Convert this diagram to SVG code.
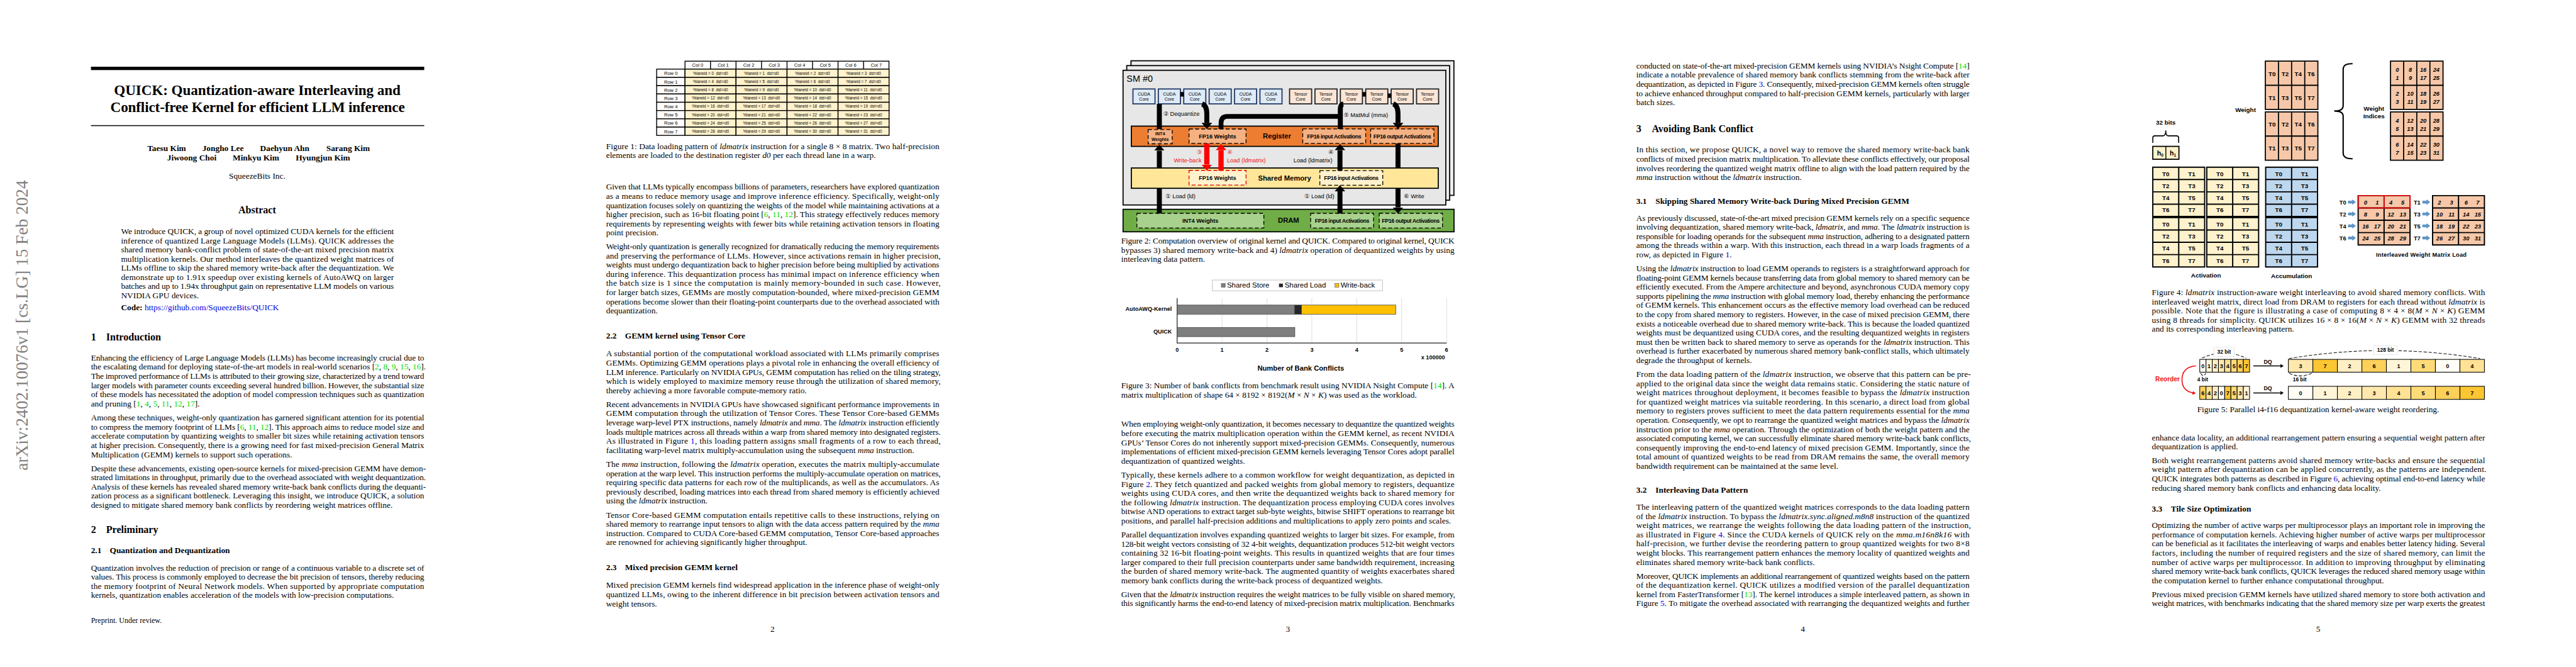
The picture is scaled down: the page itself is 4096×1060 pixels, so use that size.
<svg xmlns="http://www.w3.org/2000/svg" width="4096" height="1060" viewBox="0 0 4096 1060">
<style>
text{font-family:"Liberation Serif","Times New Roman",serif;font-size:15.15px;fill:#000}
.i{font-style:italic}.g{fill:#00e000}.bl{fill:#0000e0}
.h1{font-size:18.2px;font-weight:bold}.h2{font-weight:bold}
.s,.sb,.m,.mb,.n{font-family:"Liberation Sans",Arial,sans-serif}
.m{text-anchor:middle}.mb{text-anchor:middle;font-weight:bold}.sb{font-weight:bold}
#figure4 .m{font-weight:bold}
.f8{font-size:8px}.f7{font-size:7.1px}.f86{font-size:8.6px}.f10{font-size:10.3px}.f105{font-size:10.5px}.f11{font-size:11.2px}.f127{font-size:12.7px}.f13{font-size:13px}
.red{fill:#f01010}
.n{font-size:10.5px;font-weight:bold;font-style:italic;text-anchor:middle}
.bx{stroke:#000;stroke-width:1.6}
.d{stroke:#000;stroke-width:1.5;stroke-dasharray:7 4}
.w{fill:none;stroke:#000;stroke-width:9}
.wr{fill:none;stroke:#f00;stroke-width:9.5}
.ln{fill:none;stroke:#000}
.da{fill:none;stroke:#111;stroke-width:1.2;stroke-dasharray:6 3}
.c{stroke:#000;stroke-width:1.2}
.v0{fill:#fffdf6}.v1{fill:#fff6da}.v2{fill:#ffefc4}.v3{fill:#ffe8ad}.v4{fill:#ffe294}.v5{fill:#ffdb78}.v6{fill:#fdd05a}.v7{fill:#fbc631}
</style>
<defs>
<marker id="hb" markerUnits="userSpaceOnUse" markerWidth="11" markerHeight="19" viewBox="0 0 11 19" refX="0" refY="9.5" orient="auto"><path d="M0 0L11 9.5L0 19Z" fill="#000"/></marker>
<marker id="hr" markerUnits="userSpaceOnUse" markerWidth="11" markerHeight="19" viewBox="0 0 11 19" refX="0" refY="9.5" orient="auto"><path d="M0 0L11 9.5L0 19Z" fill="#f00"/></marker>
<marker id="hs" markerUnits="userSpaceOnUse" markerWidth="6" markerHeight="7" viewBox="0 0 6 7" refX="0" refY="3.5" orient="auto"><path d="M0 0L6 3.5L0 7Z" fill="#000"/></marker>
<marker id="hc" markerUnits="userSpaceOnUse" markerWidth="6" markerHeight="7" viewBox="0 0 6 7" refX="1" refY="3.5" orient="auto"><path d="M0 0L6 3.5L0 7Z" fill="#f01010"/></marker>
<g id="r1"><rect x="0" width="51" height="14.9" fill="#fff" class="bx"/><rect x="51" width="91.8" height="14.9" fill="#fff2cc" class="bx"/><rect x="142.8" width="91.8" height="14.9" fill="#fff2cc" class="bx"/><rect x="234.6" width="91.8" height="14.9" fill="#fff2cc" class="bx"/><rect x="326.4" width="91.8" height="14.9" fill="#fff2cc" class="bx"/></g>
<path id="ab" d="M0 0H93.3V88.6H0ZM46.65 0V88.6M0 22.15H93.3M0 44.3H93.3M0 66.45H93.3" stroke="#000" stroke-width="2.2"/>
<path id="wb" d="M0 0H94.5V43.4H0ZM23.6 0V43.4M47.25 0V43.4M70.9 0V43.4" stroke="#000" stroke-width="2" fill="#f6c8a9"/>
<path id="ba" d="M0-2H7.5V-4L13 0L7.5 4V2H0Z" fill="#5b9bd5" stroke="#2e5f8a" stroke-width=".6"/>
</defs>
<rect width="4096" height="1060" fill="#fff"/>
<g transform="scale(.88372)">

<g id="stamp"><text transform="translate(50,846) rotate(-90)" textLength="522" lengthAdjust="spacingAndGlyphs" style="font-size:32px;fill:#808080">arXiv:2402.10076v1  [cs.LG]  15 Feb 2024</text></g>

<g id="page1" transform="translate(163.7,0)">
<rect y="120" width="599.6" height="6" fill="#000"/><rect y="225" width="599.6" height="1.8" fill="#111"/>
<text x="41.5" y="171.4" textLength="515.4" style="font-size:26.2px;font-weight:bold">QUICK: Quantization-aware Interleaving and</text>
<text x="35" y="201.8" textLength="529.7" style="font-size:26.2px;font-weight:bold">Conflict-free Kernel for efficient LLM inference</text>
<text class="h2" x="101.3" y="272">Taesu Kim</text><text class="h2" x="200.3" y="272">Jongho Lee</text><text class="h2" x="304.3" y="272">Daehyun Ahn</text><text class="h2" x="423.3" y="272">Sarang Kim</text>
<text class="h2" x="137" y="288.6">Jiwoong Choi</text><text class="h2" x="255" y="288.6">Minkyu Kim</text><text class="h2" x="368.3" y="288.6">Hyungjun Kim</text>
<text x="299" y="321.8" text-anchor="middle">SqueezeBits Inc.</text>
<text class="h1" x="299" y="383.6" text-anchor="middle">Abstract</text>
<text x="54" y="421" textLength="491">We introduce QUICK, a group of novel optimized CUDA kernels for the efficient</text>
<text x="54" y="437.5" textLength="491">inference of quantized Large Language Models (LLMs). QUICK addresses the</text>
<text x="54" y="453.9" textLength="491">shared memory bank-conflict problem of state-of-the-art mixed precision matrix</text>
<text x="54" y="470.4" textLength="491">multiplication kernels. Our method interleaves the quantized weight matrices of</text>
<text x="54" y="486.8" textLength="491">LLMs offline to skip the shared memory write-back after the dequantization. We</text>
<text x="54" y="503.3" textLength="491">demonstrate up to 1.91x speedup over existing kernels of AutoAWQ on larger</text>
<text x="54" y="519.7" textLength="491">batches and up to 1.94x throughput gain on representative LLM models on various</text>
<text x="54" y="536.2">NVIDIA GPU devices.</text>
<text x="54" y="557.5"><tspan class="h2">Code:</tspan> <tspan class="bl">https://github.com/SqueezeBits/QUICK</tspan></text>
<text class="h1" y="612">1<tspan x="27.3">Introduction</tspan></text>
<text y="648.1" textLength="599.6">Enhancing the efficiency of Large Language Models (LLMs) has become increasingly crucial due to</text>
<text y="664.7" textLength="602.5">the escalating demand for deploying state-of-the-art models in real-world scenarios [<tspan class="g">2</tspan>, <tspan class="g">8</tspan>, <tspan class="g">9</tspan>, <tspan class="g">15</tspan>, <tspan class="g">16</tspan>].</text>
<text y="681.3" textLength="599.6">The improved performance of LLMs is attributed to their growing size, characterized by a trend toward</text>
<text y="697.9" textLength="599.6">larger models with parameter counts exceeding several hundred billion. However, the substantial size</text>
<text y="714.5" textLength="599.6">of these models has necessitated the adoption of model compression techniques such as quantization</text>
<text y="731.1">and pruning [<tspan class="g">1</tspan>, <tspan class="g">4</tspan>, <tspan class="g">5</tspan>, <tspan class="g">11</tspan>, <tspan class="g">12</tspan>, <tspan class="g">17</tspan>].</text>
<text y="755.8" textLength="599.6">Among these techniques, weight-only quantization has garnered significant attention for its potential</text>
<text y="772.4" textLength="599.6">to compress the memory footprint of LLMs [<tspan class="g">6</tspan>, <tspan class="g">11</tspan>, <tspan class="g">12</tspan>]. This approach aims to reduce model size and</text>
<text y="789" textLength="599.6">accelerate computation by quantizing weights to smaller bit sizes while retaining activation tensors</text>
<text y="805.6" textLength="599.6">at higher precision. Consequently, there is a growing need for fast mixed-precision General Matrix</text>
<text y="822.2">Multiplication (GEMM) kernels to support such operations.</text>
<text y="847.2" textLength="602.5">Despite these advancements, existing open-source kernels for mixed-precision GEMM have demon-</text>
<text y="863.7" textLength="602.5">strated limitations in throughput, primarily due to the overhead associated with weight dequantization.</text>
<text y="880.2" textLength="602.5">Analysis of these kernels has revealed shared memory write-back bank conflicts during the dequanti-</text>
<text y="896.7" textLength="599.6">zation process as a significant bottleneck. Leveraging this insight, we introduce QUICK, a solution</text>
<text y="913.2">designed to mitigate shared memory bank conflicts by reordering weight matrices offline.</text>
<text class="h1" y="958.5">2<tspan x="27.3">Preliminary</tspan></text>
<text class="h2" y="995">2.1<tspan x="33.8">Quantization and Dequantization</tspan></text>
<text y="1025.8" textLength="599.6">Quantization involves the reduction of precision or range of a continuous variable to a discrete set of</text>
<text y="1042.3" textLength="599.6">values. This process is commonly employed to decrease the bit precision of tensors, thereby reducing</text>
<text y="1058.8" textLength="599.6">the memory footprint of Neural Network models. When supported by appropriate computation</text>
<text y="1075.3">kernels, quantization enables acceleration of the models with low-precision computations.</text>
<text y="1120" style="font-size:13.6px">Preprint. Under review.</text>
</g>

<g id="figure1">
<rect x="1232.5" y="110" width="367" height="14.3" fill="#fff" class="bx"/>
<path d="M1278.4 110V124.3M1324.3 110V124.3M1370.2 110V124.3M1416.1 110V124.3M1462 110V124.3M1507.9 110V124.3M1553.8 110V124.3" class="bx"/>
<text class="m f86" x="1255.4" y="120.3">Col 0</text><text class="m f86" x="1301.3" y="120.3">Col 1</text><text class="m f86" x="1347.2" y="120.3">Col 2</text><text class="m f86" x="1393.1" y="120.3">Col 3</text><text class="m f86" x="1439" y="120.3">Col 4</text><text class="m f86" x="1484.9" y="120.3">Col 5</text><text class="m f86" x="1530.8" y="120.3">Col 6</text><text class="m f86" x="1576.7" y="120.3">Col 7</text>
<use href="#r1" x="1181.5" y="124.3"/><use href="#r1" x="1181.5" y="139.2"/><use href="#r1" x="1181.5" y="154.1"/><use href="#r1" x="1181.5" y="169"/><use href="#r1" x="1181.5" y="183.9"/><use href="#r1" x="1181.5" y="198.8"/><use href="#r1" x="1181.5" y="213.7"/><use href="#r1" x="1181.5" y="228.6"/>
<text class="m f86" x="1207" y="135.2">Row 0</text><text class="m f86" x="1207" y="150.1">Row 1</text><text class="m f86" x="1207" y="165">Row 2</text><text class="m f86" x="1207" y="179.9">Row 3</text><text class="m f86" x="1207" y="194.8">Row 4</text><text class="m f86" x="1207" y="209.7">Row 5</text><text class="m f86" x="1207" y="224.6">Row 6</text><text class="m f86" x="1207" y="239.5">Row 7</text>
<text class="m f7" x="1278.4" y="134.4" xml:space="preserve">%laneid = 0  dst=d0</text><text class="m f7" x="1370.2" y="134.4" xml:space="preserve">%laneid = 1  dst=d0</text><text class="m f7" x="1462" y="134.4" xml:space="preserve">%laneid = 2  dst=d0</text><text class="m f7" x="1553.8" y="134.4" xml:space="preserve">%laneid = 3  dst=d0</text>
<text class="m f7" x="1278.4" y="149.3" xml:space="preserve">%laneid = 4  dst=d0</text><text class="m f7" x="1370.2" y="149.3" xml:space="preserve">%laneid = 5  dst=d0</text><text class="m f7" x="1462" y="149.3" xml:space="preserve">%laneid = 6  dst=d0</text><text class="m f7" x="1553.8" y="149.3" xml:space="preserve">%laneid = 7  dst=d0</text>
<text class="m f7" x="1278.4" y="164.2" xml:space="preserve">%laneid = 8  dst=d0</text><text class="m f7" x="1370.2" y="164.2" xml:space="preserve">%laneid = 9  dst=d0</text><text class="m f7" x="1462" y="164.2" xml:space="preserve">%laneid = 10  dst=d0</text><text class="m f7" x="1553.8" y="164.2" xml:space="preserve">%laneid = 11  dst=d0</text>
<text class="m f7" x="1278.4" y="179.1" xml:space="preserve">%laneid = 12  dst=d0</text><text class="m f7" x="1370.2" y="179.1" xml:space="preserve">%laneid = 13  dst=d0</text><text class="m f7" x="1462" y="179.1" xml:space="preserve">%laneid = 14  dst=d0</text><text class="m f7" x="1553.8" y="179.1" xml:space="preserve">%laneid = 15  dst=d0</text>
<text class="m f7" x="1278.4" y="194" xml:space="preserve">%laneid = 16  dst=d0</text><text class="m f7" x="1370.2" y="194" xml:space="preserve">%laneid = 17  dst=d0</text><text class="m f7" x="1462" y="194" xml:space="preserve">%laneid = 18  dst=d0</text><text class="m f7" x="1553.8" y="194" xml:space="preserve">%laneid = 19  dst=d0</text>
<text class="m f7" x="1278.4" y="208.9" xml:space="preserve">%laneid = 20  dst=d0</text><text class="m f7" x="1370.2" y="208.9" xml:space="preserve">%laneid = 21  dst=d0</text><text class="m f7" x="1462" y="208.9" xml:space="preserve">%laneid = 22  dst=d0</text><text class="m f7" x="1553.8" y="208.9" xml:space="preserve">%laneid = 23  dst=d0</text>
<text class="m f7" x="1278.4" y="223.8" xml:space="preserve">%laneid = 24  dst=d0</text><text class="m f7" x="1370.2" y="223.8" xml:space="preserve">%laneid = 25  dst=d0</text><text class="m f7" x="1462" y="223.8" xml:space="preserve">%laneid = 26  dst=d0</text><text class="m f7" x="1553.8" y="223.8" xml:space="preserve">%laneid = 27  dst=d0</text>
<text class="m f7" x="1278.4" y="238.7" xml:space="preserve">%laneid = 28  dst=d0</text><text class="m f7" x="1370.2" y="238.7" xml:space="preserve">%laneid = 29  dst=d0</text><text class="m f7" x="1462" y="238.7" xml:space="preserve">%laneid = 30  dst=d0</text><text class="m f7" x="1553.8" y="238.7" xml:space="preserve">%laneid = 31  dst=d0</text>
</g>

<g id="page2" transform="translate(1090.5,0)">
<text y="267.9" textLength="599.6">Figure 1: Data loading pattern of <tspan class="i">ldmatrix</tspan> instruction for a single 8 × 8 matrix. Two half-precision</text>
<text y="284.3">elements are loaded to the destination register <tspan class="i">d0</tspan> per each thread lane in a warp.</text>
<text y="341" textLength="599.6">Given that LLMs typically encompass billions of parameters, researchers have explored quantization</text>
<text y="357.5" textLength="599.6">as a means to reduce memory usage and improve inference efficiency. Specifically, weight-only</text>
<text y="374" textLength="599.6">quantization focuses solely on quantizing the weights of the model while maintaining activations at a</text>
<text y="390.4" textLength="599.6">higher precision, such as 16-bit floating point [<tspan class="g">6</tspan>, <tspan class="g">11</tspan>, <tspan class="g">12</tspan>]. This strategy effectively reduces memory</text>
<text y="406.9" textLength="599.6">requirements by representing weights with fewer bits while retaining activation tensors in floating</text>
<text y="423.4">point precision.</text>
<text y="448.2" textLength="599.6">Weight-only quantization is generally recognized for dramatically reducing the memory requirements</text>
<text y="464.7" textLength="602">and preserving the performance of LLMs. However, since activations remain in higher precision,</text>
<text y="481.2" textLength="599.6">weights must undergo dequantization back to higher precision before being multiplied by activations</text>
<text y="497.7" textLength="599.6">during inference. This dequantization process has minimal impact on inference efficiency when</text>
<text y="514.2" textLength="602">the batch size is 1 since the computation is mainly memory-bounded in such case. However,</text>
<text y="530.7" textLength="599.6">for larger batch sizes, GEMMs are mostly computation-bounded, where mixed-precision GEMM</text>
<text y="547.2" textLength="599.6">operations become slower than their floating-point counterparts due to the overhead associated with</text>
<text y="563.7">dequantization.</text>
<text class="h2" y="608.6">2.2<tspan x="34">GEMM kernel using Tensor Core</tspan></text>
<text y="641" textLength="599.6">A substantial portion of the computational workload associated with LLMs primarily comprises</text>
<text y="657.6" textLength="599.6">GEMMs. Optimizing GEMM operations plays a pivotal role in enhancing the overall efficiency of</text>
<text y="674.1" textLength="602">LLM inference. Particularly on NVIDIA GPUs, GEMM computation has relied on the tiling strategy,</text>
<text y="690.7" textLength="602">which is widely employed to maximize memory reuse through the utilization of shared memory,</text>
<text y="707.2">thereby achieving a more favorable compute-memory ratio.</text>
<text y="731.7" textLength="599.6">Recent advancements in NVIDIA GPUs have showcased significant performance improvements in</text>
<text y="748.3" textLength="599.6">GEMM computation through the utilization of Tensor Cores. These Tensor Core-based GEMMs</text>
<text y="764.8" textLength="599.6">leverage warp-level PTX instructions, namely <tspan class="i">ldmatrix</tspan> and <tspan class="i">mma</tspan>. The <tspan class="i">ldmatrix</tspan> instruction efficiently</text>
<text y="781.4" textLength="602">loads multiple matrices across all threads within a warp from shared memory into designated registers.</text>
<text y="797.9" textLength="602">As illustrated in Figure <tspan class="bl">1</tspan>, this loading pattern assigns small fragments of a row to each thread,</text>
<text y="814.5">facilitating warp-level matrix multiply-accumulation using the subsequent <tspan class="i">mma</tspan> instruction.</text>
<text y="839.8" textLength="599.6">The <tspan class="i">mma</tspan> instruction, following the <tspan class="i">ldmatrix</tspan> operation, executes the matrix multiply-accumulate</text>
<text y="856.3" textLength="602">operation at the warp level. This instruction performs the multiply-accumulate operation on matrices,</text>
<text y="872.8" textLength="599.6">requiring specific data patterns for each row of the multiplicands, as well as the accumulators. As</text>
<text y="889.3" textLength="599.6">previously described, loading matrices into each thread from shared memory is efficiently achieved</text>
<text y="905.8">using the <tspan class="i">ldmatrix</tspan> instruction.</text>
<text y="930.8" textLength="599.6">Tensor Core-based GEMM computation entails repetitive calls to these instructions, relying on</text>
<text y="947.3" textLength="599.6">shared memory to rearrange input tensors to align with the data access pattern required by the <tspan class="i">mma</tspan></text>
<text y="963.8" textLength="599.6">instruction. Compared to CUDA Core-based GEMM computation, Tensor Core-based approaches</text>
<text y="980.3">are renowned for achieving significantly higher throughput.</text>
<text class="h2" y="1025">2.3<tspan x="34">Mixed precision GEMM kernel</tspan></text>
<text y="1057.3" textLength="599.6">Mixed precision GEMM kernels find widespread application in the inference phase of weight-only</text>
<text y="1073.8" textLength="599.6">quantized LLMs, owing to the inherent difference in bit precision between activation tensors and</text>
<text y="1090.3">weight tensors.</text>
<text x="299.5" y="1135.7" text-anchor="middle">2</text>
</g>

<g id="figure2">
<rect x="2035" y="109.3" width="581" height="242" fill="#ededed" stroke="#000" stroke-width="2"/>
<rect x="2027.3" y="118" width="581" height="242" fill="#ededed" stroke="#000" stroke-width="2"/>
<rect x="2020.7" y="126.4" width="580.7" height="242.2" fill="#e7e7e7" stroke="#000" stroke-width="2"/>
<text class="s" x="2027" y="147" style="font-size:16.3px">SM #0</text>
<g id="cores" fill="#deebf7" stroke="#1f3864" stroke-width="2">
<rect id="cuda0" x="2038.5" y="160" width="39.7" height="26.8"/><rect id="cuda1" x="2084.2" y="160" width="39.7" height="26.8"/><rect id="cuda2" x="2129.9" y="160" width="39.7" height="26.8"/><rect id="cuda3" x="2175.6" y="160" width="39.7" height="26.8"/><rect id="cuda4" x="2221.3" y="160" width="39.7" height="26.8"/><rect id="cuda5" x="2267" y="160" width="39.7" height="26.8"/>
<g fill="#fbe5d6" stroke="#222"><rect id="tensor0" x="2320.3" y="160" width="39.7" height="26.8"/><rect id="tensor1" x="2366" y="160" width="39.7" height="26.8"/><rect id="tensor2" x="2411.7" y="160" width="39.7" height="26.8"/><rect id="tensor3" x="2457.4" y="160" width="39.7" height="26.8"/><rect id="tensor4" x="2503.1" y="160" width="39.7" height="26.8"/><rect id="tensor5" x="2548.8" y="160" width="39.7" height="26.8"/></g>
</g>
<text class="m f8" x="2058.3" y="172.2">CUDA</text><text class="m f8" x="2058.3" y="181.2">Core</text><text class="m f8" x="2104" y="172.2">CUDA</text><text class="m f8" x="2104" y="181.2">Core</text><text class="m f8" x="2149.7" y="172.2">CUDA</text><text class="m f8" x="2149.7" y="181.2">Core</text><text class="m f8" x="2195.4" y="172.2">CUDA</text><text class="m f8" x="2195.4" y="181.2">Core</text><text class="m f8" x="2241.1" y="172.2">CUDA</text><text class="m f8" x="2241.1" y="181.2">Core</text><text class="m f8" x="2286.8" y="172.2">CUDA</text><text class="m f8" x="2286.8" y="181.2">Core</text>
<text class="m f8" x="2340.1" y="172.2">Tensor</text><text class="m f8" x="2340.1" y="181.2">Core</text><text class="m f8" x="2385.8" y="172.2">Tensor</text><text class="m f8" x="2385.8" y="181.2">Core</text><text class="m f8" x="2431.5" y="172.2">Tensor</text><text class="m f8" x="2431.5" y="181.2">Core</text><text class="m f8" x="2477.2" y="172.2">Tensor</text><text class="m f8" x="2477.2" y="181.2">Core</text><text class="m f8" x="2522.9" y="172.2">Tensor</text><text class="m f8" x="2522.9" y="181.2">Core</text><text class="m f8" x="2568.6" y="172.2">Tensor</text><text class="m f8" x="2568.6" y="181.2">Core</text>
<g id="register"><rect x="2035.6" y="226.8" width="552.2" height="36.4" fill="#ed7d31" stroke="#000" stroke-width="2"/>
<g fill="#f4b183" class="d"><rect x="2065.8" y="232.9" width="43.3" height="25.7"/><rect x="2139.4" y="232" width="102.6" height="25.9"/><rect x="2344" y="231.8" width="113.3" height="26.1"/><rect x="2466.2" y="231.8" width="113.8" height="26.1"/></g>
<text class="mb f8" x="2087.4" y="243.5">INT4</text><text class="mb f8" x="2087.4" y="253.5">Weights</text><text class="mb f10" x="2190.7" y="248.6">FP16 Weights</text><text class="mb" x="2400.6" y="248.6" style="font-size:10px" textLength="98">FP16 input Activations</text><text class="mb" x="2523" y="248.6" style="font-size:10px" textLength="104">FP16 output Activations</text>
<text class="mb f127" x="2297.7" y="249">Register</text></g>
<g id="sharedmemory"><rect x="2035.6" y="302.1" width="552.2" height="36.5" fill="#ffe699" stroke="#000" stroke-width="2"/>
<rect x="2139.4" y="306.4" width="102.6" height="26.5" fill="#fff2cc" class="d" style="stroke:#e00000"/><rect x="2374.8" y="306.8" width="113.2" height="26.4" fill="#fff2cc" class="d"/>
<text class="mb f10" x="2190.7" y="323.6">FP16 Weights</text><text class="mb" x="2431.4" y="323.8" style="font-size:10px" textLength="98">FP16 input Activations</text>
<text class="mb f127" x="2311.4" y="325">Shared Memory</text></g>
<g id="dram"><rect x="2020.7" y="376.4" width="595.5" height="40.4" fill="#70ad47" stroke="#000" stroke-width="2"/>
<g fill="#a9d18e" class="d"><rect x="2045.6" y="383.6" width="228.4" height="26.4"/><rect x="2358.2" y="383.6" width="113.3" height="26.4"/><rect x="2481.6" y="383.6" width="113.9" height="26.4"/></g>
<text class="mb f10" x="2159.8" y="400.6">INT4 Weights</text><text class="mb" x="2414.9" y="400.6" style="font-size:10px" textLength="98">FP16 input Activations</text><text class="mb" x="2538.5" y="400.6" style="font-size:10px" textLength="104">FP16 output Activations</text>
<text class="mb f127" x="2318.5" y="400.7">DRAM</text></g>
<g id="connectors">
<path class="w" d="M2086 384V338.6M2086 302V271" marker-end="url(#hb)"/>
<path class="w" d="M2086 232V186.8"/>
<path class="w" style="stroke-width:8" d="M2123.9 169.6H2129.9M2451.4 169.6H2457.4M2497.1 172H2503.1"/>
<path class="w" d="M2163 186.8Q2171.4 190 2171.4 205V221" marker-end="url(#hb)"/>
<path class="w" style="stroke-width:8.6" d="M2197 232V222Q2197 209.3 2208 209.3H2411.6"/>
<path class="w" d="M2411.6 232V197Q2411.6 187.5 2417 186.8"/>
<path class="w" d="M2507 186.8Q2515.4 190 2515.4 205V221" marker-end="url(#hb)"/>
<path class="w" d="M2411 306.8V270" marker-end="url(#hb)"/>
<path class="w" d="M2411 384V344" marker-end="url(#hb)"/>
<path class="w" d="M2515.4 258V302"/>
<path class="w" d="M2515.4 338.6V373" marker-end="url(#hb)"/>
<path class="wr" d="M2171.4 258V296" marker-end="url(#hr)"/>
<path class="wr" d="M2197 306.8V270" marker-end="url(#hr)"/>
</g>
<text class="s f105" x="2093" y="207.9" style="font-size:10.5px"><tspan style="font-family:'DejaVu Sans',sans-serif">②</tspan> Dequantize</text>
<text class="s f105" x="2417.5" y="210.7"><tspan style="font-family:'DejaVu Sans',sans-serif">⑤</tspan> MatMul (mma)</text>
<text class="m f105 red" x="2158" y="277.5" style="font-family:'DejaVu Sans',sans-serif">③</text>
<text class="s f105 red" x="2112" y="291.4">Write-back</text>
<text class="m f105 red" x="2213" y="277.5" style="font-family:'DejaVu Sans',sans-serif">④</text>
<text class="s f105 red" x="2207.6" y="291.4">Load (ldmatrix)</text>
<text class="m f105" x="2395" y="277.5" style="font-family:'DejaVu Sans',sans-serif">④</text>
<text class="s f105" x="2327.4" y="291.4">Load (ldmatrix)</text>
<text class="s f105" x="2097.2" y="356.8"><tspan style="font-family:'DejaVu Sans',sans-serif">①</tspan> Load (ld)</text>
<text class="s f105" x="2347" y="356.8"><tspan style="font-family:'DejaVu Sans',sans-serif">①</tspan> Load (ld)</text>
<text class="s f105" x="2526" y="356.8"><tspan style="font-family:'DejaVu Sans',sans-serif">⑥</tspan> Write</text>
</g>

<g id="figure3">
<rect x="2181.5" y="503.6" width="306" height="19.3" fill="#fff" stroke="#b8b8b8" stroke-width="1"/>
<rect x="2197.5" y="510" width="7" height="6.5" fill="#7f7f7f" stroke="#333" stroke-width=".6"/><text class="s f13" x="2207.6" y="517">Shared Store</text>
<rect x="2301.3" y="510" width="7" height="6.5" fill="#262626"/><text class="s f13" x="2311.4" y="517">Shared Load</text>
<rect x="2402" y="510" width="7" height="6.5" fill="#ffc000" stroke="#333" stroke-width=".6"/><text class="s f13" x="2412.2" y="517">Write-back</text>
<path d="M2198.8 536V616M2279.6 536V616M2360.4 536V616M2441.2 536V616M2522 536V616M2602.8 536V616" stroke="#d9d9d9" stroke-width="1"/>
<path d="M2118 536V616.8H2603" fill="none" stroke="#222" stroke-width="1.4"/>
<g stroke="#333" stroke-width=".8"><rect x="2118" y="548.6" width="211.8" height="16.4" fill="#7f7f7f"/><rect x="2329.8" y="548.6" width="11.8" height="16.4" fill="#262626"/><rect x="2341.6" y="548.6" width="169.7" height="16.4" fill="#ffc000"/><rect x="2118" y="589" width="211.8" height="16.4" fill="#7f7f7f"/></g>
<text class="sb f10" x="2108.5" y="559.3" text-anchor="end">AutoAWQ-Kernel</text><text class="sb f10" x="2108.5" y="600" text-anchor="end">QUICK</text>
<text class="mb f10" x="2118" y="633">0</text><text class="mb f10" x="2198.8" y="633">1</text><text class="mb f10" x="2279.6" y="633">2</text><text class="mb f10" x="2360.4" y="633">3</text><text class="mb f10" x="2441.2" y="633">4</text><text class="mb f10" x="2522" y="633">5</text><text class="mb f10" x="2602.8" y="633">6</text>
<text class="sb f10" x="2600" y="646.6" text-anchor="end">x 100000</text>
<text class="mb f127" x="2340.4" y="667">Number of Bank Conflicts</text>
</g>

<g id="page3" transform="translate(2017.3,0)">
<text y="438.2" textLength="599.6">Figure 2: Computation overview of original kernel and QUICK. Compared to original kernel, QUICK</text>
<text y="454.6" textLength="599.6">bypasses 3) shared memory write-back and 4) <tspan class="i">ldmatrix</tspan> operation of dequantized weights by using</text>
<text y="471">interleaving data pattern.</text>
<text y="698.4" textLength="599.6">Figure 3: Number of bank conflicts from benchmark result using NVIDIA Nsight Compute [<tspan class="g">14</tspan>]. A</text>
<text y="715">matrix multiplication of shape 64 × 8192 × 8192(<tspan class="i">M</tspan> × <tspan class="i">N</tspan> × <tspan class="i">K</tspan>) was used as the workload.</text>
<text y="767.6" textLength="599.6">When employing weight-only quantization, it becomes necessary to dequantize the quantized weights</text>
<text y="784.1" textLength="599.6">before executing the matrix multiplication operation within the GEMM kernel, as recent NVIDIA</text>
<text y="800.6" textLength="599.6">GPUs’ Tensor Cores do not inherently support mixed-precision GEMMs. Consequently, numerous</text>
<text y="817.1" textLength="599.6">implementations of efficient mixed-precision GEMM kernels leveraging Tensor Cores adopt parallel</text>
<text y="833.6">dequantization of quantized weights.</text>
<text y="859" textLength="599.6">Typically, these kernels adhere to a common workflow for weight dequantization, as depicted in</text>
<text y="875.5" textLength="599.6">Figure <tspan class="bl">2</tspan>. They fetch quantized and packed weights from global memory to registers, dequantize</text>
<text y="892" textLength="599.6">weights using CUDA cores, and then write the dequantized weights back to shared memory for</text>
<text y="908.5" textLength="599.6">the following <tspan class="i">ldmatrix</tspan> instruction. The dequantization process employing CUDA cores involves</text>
<text y="925" textLength="599.6">bitwise AND operations to extract target sub-byte weights, bitwise SHIFT operations to rearrange bit</text>
<text y="941.5">positions, and parallel half-precision additions and multiplications to apply zero points and scales.</text>
<text y="966.3" textLength="599.6">Parallel dequantization involves expanding quantized weights to larger bit sizes. For example, from</text>
<text y="982.8" textLength="599.6">128-bit weight vectors consisting of 32 4-bit weights, dequantization produces 512-bit weight vectors</text>
<text y="999.3" textLength="599.6">containing 32 16-bit floating-point weights. This results in quantized weights that are four times</text>
<text y="1015.8" textLength="599.6">larger compared to their full precision counterparts under same bandwidth requirement, increasing</text>
<text y="1032.3" textLength="599.6">the burden of shared memory write-back. The augmented quantity of weights exacerbates shared</text>
<text y="1048.8">memory bank conflicts during the write-back process of dequantized weights.</text>
<text y="1073.6" textLength="601">Given that the <tspan class="i">ldmatrix</tspan> instruction requires the weight matrices to be fully visible on shared memory,</text>
<text y="1090.1" textLength="599.6">this significantly harms the end-to-end latency of mixed-precision matrix multiplication. Benchmarks</text>
<text x="300" y="1135.7" text-anchor="middle">3</text>
</g>

<g id="page4" transform="translate(2944.1,0)">
<text y="123.2" textLength="599.6">conducted on state-of-the-art mixed-precision GEMM kernels using NVIDIA’s Nsight Compute [<tspan class="g">14</tspan>]</text>
<text y="139.7" textLength="599.6">indicate a notable prevalence of shared memory bank conflicts stemming from the write-back after</text>
<text y="156.2" textLength="599.6">dequantization, as depicted in Figure <tspan class="bl">3</tspan>. Consequently, mixed-precision GEMM kernels often struggle</text>
<text y="172.7" textLength="599.6">to achieve enhanced throughput compared to half-precision GEMM kernels, particularly with larger</text>
<text y="189.2">batch sizes.</text>
<text class="h1" y="237.9">3<tspan x="27.9">Avoiding Bank Conflict</tspan></text>
<text y="274.3" textLength="599.6">In this section, we propose QUICK, a novel way to remove the shared memory write-back bank</text>
<text y="290.8" textLength="599.6">conflicts of mixed precision matrix multiplication. To alleviate these conflicts effectively, our proposal</text>
<text y="307.3" textLength="599.6">involves reordering the quantized weight matrix offline to align with the load pattern required by the</text>
<text y="323.8"><tspan class="i">mma</tspan> instruction without the <tspan class="i">ldmatrix</tspan> instruction.</text>
<text class="h2" y="366.4">3.1<tspan x="34.5">Skipping Shared Memory Write-back During Mixed Precision GEMM</tspan></text>
<text y="396.8" textLength="599.6">As previously discussed, state-of-the-art mixed precision GEMM kernels rely on a specific sequence</text>
<text y="413.3" textLength="599.6">involving dequantization, shared memory write-back, <tspan class="i">ldmatrix</tspan>, and <tspan class="i">mma</tspan>. The <tspan class="i">ldmatrix</tspan> instruction is</text>
<text y="429.8" textLength="599.6">responsible for loading operands for the subsequent <tspan class="i">mma</tspan> instruction, adhering to a designated pattern</text>
<text y="446.3" textLength="599.6">among the threads within a warp. With this instruction, each thread in a warp loads fragments of a</text>
<text y="462.8">row, as depicted in Figure <tspan class="bl">1</tspan>.</text>
<text y="487.9" textLength="599.6">Using the <tspan class="i">ldmatrix</tspan> instruction to load GEMM operands to registers is a straightforward approach for</text>
<text y="504.4" textLength="599.6">floating-point GEMM kernels because transferring data from global memory to shared memory can be</text>
<text y="520.9" textLength="599.6">efficiently executed. From the Ampere architecture and beyond, asynchronous CUDA memory copy</text>
<text y="537.4" textLength="599.6">supports pipelining the <tspan class="i">mma</tspan> instruction with global memory load, thereby enhancing the performance</text>
<text y="553.9" textLength="599.6">of GEMM kernels. This enhancement occurs as the effective memory load overhead can be reduced</text>
<text y="570.4" textLength="599.6">to the copy from shared memory to registers. However, in the case of mixed precision GEMM, there</text>
<text y="586.9" textLength="599.6">exists a noticeable overhead due to shared memory write-back. This is because the loaded quantized</text>
<text y="603.4" textLength="599.6">weights must be dequantized using CUDA cores, and the resulting dequantized weights in registers</text>
<text y="619.9" textLength="599.6">must then be written back to shared memory to serve as operands for the <tspan class="i">ldmatrix</tspan> instruction. This</text>
<text y="636.4" textLength="599.6">overhead is further exacerbated by numerous shared memory bank-conflict stalls, which ultimately</text>
<text y="652.9">degrade the throughput of kernels.</text>
<text y="678" textLength="602">From the data loading pattern of the <tspan class="i">ldmatrix</tspan> instruction, we observe that this pattern can be pre-</text>
<text y="694.5" textLength="599.6">applied to the original data since the weight data remains static. Considering the static nature of</text>
<text y="711" textLength="599.6">weight matrices throughout deployment, it becomes feasible to bypass the <tspan class="i">ldmatrix</tspan> instruction</text>
<text y="727.5" textLength="599.6">for quantized weight matrices via suitable reordering. In this scenario, a direct load from global</text>
<text y="744" textLength="599.6">memory to registers proves sufficient to meet the data pattern requirements essential for the <tspan class="i">mma</tspan></text>
<text y="760.5" textLength="599.6">operation. Consequently, we opt to rearrange the quantized weight matrices and bypass the <tspan class="i">ldmatrix</tspan></text>
<text y="777" textLength="599.6">instruction prior to the <tspan class="i">mma</tspan> operation. Through the optimization of both the weight pattern and the</text>
<text y="793.5" textLength="602">associated computing kernel, we can successfully eliminate shared memory write-back bank conflicts,</text>
<text y="810" textLength="599.6">consequently improving the end-to-end latency of mixed precision GEMM. Importantly, since the</text>
<text y="826.5" textLength="599.6">total amount of quantized weights to be read from DRAM remains the same, the overall memory</text>
<text y="843">bandwidth requirement can be maintained at the same level.</text>
<text class="h2" y="885.6">3.2<tspan x="34.5">Interleaving Data Pattern</tspan></text>
<text y="916.7" textLength="599.6">The interleaving pattern of the quantized weight matrices corresponds to the data loading pattern</text>
<text y="933.2" textLength="599.6">of the <tspan class="i">ldmatrix</tspan> instruction. To bypass the <tspan class="i">ldmatrix.sync.aligned.m8n8</tspan> instruction of the quantized</text>
<text y="949.7" textLength="602">weight matrices, we rearrange the weights following the data loading pattern of the instruction,</text>
<text y="966.2" textLength="599.6">as illustrated in Figure <tspan class="bl">4</tspan>. Since the CUDA kernels of QUICK rely on the <tspan class="i">mma.m16n8k16</tspan> with</text>
<text y="982.7" textLength="599.6">half-precision, we further devise the reordering pattern to group quantized weights for two 8×8</text>
<text y="999.2" textLength="599.6">weight blocks. This rearrangement pattern enhances the memory locality of quantized weights and</text>
<text y="1015.7">eliminates shared memory write-back bank conflicts.</text>
<text y="1040.6" textLength="599.6">Moreover, QUICK implements an additional rearrangement of quantized weights based on the pattern</text>
<text y="1057.1" textLength="599.6">of the dequantization kernel. QUICK utilizes a modified version of the parallel dequantization</text>
<text y="1073.6" textLength="599.6">kernel from FasterTransformer [<tspan class="g">13</tspan>]. The kernel introduces a simple interleaved pattern, as shown in</text>
<text y="1090.1" textLength="599.6">Figure <tspan class="bl">5</tspan>. To mitigate the overhead associated with rearranging the dequantized weights and further</text>
<text x="299.6" y="1135.7" text-anchor="middle">4</text>
</g>

<g id="figure4">
<g id="weight"><use href="#wb" x="4076" y="110"/><use href="#wb" x="4076" y="153.4"/><use href="#wb" x="4076" y="201.4"/><use href="#wb" x="4076" y="244.8"/>
<text class="m f11" x="4088.2" y="136.5">T0</text><text class="m f11" x="4111.6" y="136.5">T2</text><text class="m f11" x="4135" y="136.5">T4</text><text class="m f11" x="4158.2" y="136.5">T6</text>
<text class="m f11" x="4088.2" y="179.4">T1</text><text class="m f11" x="4111.6" y="179.4">T3</text><text class="m f11" x="4135" y="179.4">T5</text><text class="m f11" x="4158.2" y="179.4">T7</text>
<text class="m f11" x="4088.2" y="227.6">T0</text><text class="m f11" x="4111.6" y="227.6">T2</text><text class="m f11" x="4135" y="227.6">T4</text><text class="m f11" x="4158.2" y="227.6">T6</text>
<text class="m f11" x="4088.2" y="270.8">T1</text><text class="m f11" x="4111.6" y="270.8">T3</text><text class="m f11" x="4135" y="270.8">T5</text><text class="m f11" x="4158.2" y="270.8">T7</text></g>
<path class="ln" style="stroke-width:2.4" d="M4233 114.6Q4216 113.5 4216 125V190Q4216 199.6 4200 199.6Q4216 199.6 4216 209V275Q4216 286 4233 285.4"/>
<text class="m f11" x="4040.4" y="201.8">Weight</text>
<text class="m f11" x="4271.4" y="199">Weight</text><text class="m f11" x="4271.4" y="212.5">Indices</text>
<g id="indices"><use href="#wb" x="4301.2" y="110"/><use href="#wb" x="4301.2" y="153.4"/><use href="#wb" x="4301.2" y="201.4"/><use href="#wb" x="4301.2" y="244.8"/>
<text class="n" x="4313.5" y="128.6">0</text><text class="n" x="4336.8" y="128.6">8</text><text class="n" x="4360.1" y="128.6">16</text><text class="n" x="4383.5" y="128.6">24</text>
<text class="n" x="4313.5" y="144">1</text><text class="n" x="4336.8" y="144">9</text><text class="n" x="4360.1" y="144">17</text><text class="n" x="4383.5" y="144">25</text>
<text class="n" x="4313.5" y="171.9">2</text><text class="n" x="4336.8" y="171.9">10</text><text class="n" x="4360.1" y="171.9">18</text><text class="n" x="4383.5" y="171.9">26</text>
<text class="n" x="4313.5" y="187.2">3</text><text class="n" x="4336.8" y="187.2">11</text><text class="n" x="4360.1" y="187.2">19</text><text class="n" x="4383.5" y="187.2">27</text>
<text class="n" x="4313.5" y="220.4">4</text><text class="n" x="4336.8" y="220.4">12</text><text class="n" x="4360.1" y="220.4">20</text><text class="n" x="4383.5" y="220.4">28</text>
<text class="n" x="4313.5" y="235.8">5</text><text class="n" x="4336.8" y="235.8">13</text><text class="n" x="4360.1" y="235.8">21</text><text class="n" x="4383.5" y="235.8">29</text>
<text class="n" x="4313.5" y="263.3">6</text><text class="n" x="4336.8" y="263.3">14</text><text class="n" x="4360.1" y="263.3">22</text><text class="n" x="4383.5" y="263.3">30</text>
<text class="n" x="4313.5" y="278.6">7</text><text class="n" x="4336.8" y="278.6">15</text><text class="n" x="4360.1" y="278.6">23</text><text class="n" x="4383.5" y="278.6">31</text></g>
<text class="m f11" x="3896.8" y="223.6">32 bits</text>
<path class="ln" style="stroke-width:1.8" d="M3873.5 256.8V248Q3873.5 244.3 3877 244.3H3892Q3896.8 244.3 3896.8 234.6Q3896.8 244.3 3901 244.3H3916Q3920 244.3 3920 248V256.8"/>
<rect x="3873.5" y="263.2" width="47" height="23.2" fill="#fff2cc" stroke="#000" stroke-width="2"/><path d="M3897 263.2V286.4" stroke="#000" stroke-width="1.6"/>
<text class="sb" x="3881" y="279" style="font-size:12px">h<tspan dy="3" style="font-size:7.5px">0</tspan></text><text class="sb" x="3904" y="279" style="font-size:12px">h<tspan dy="3" style="font-size:7.5px">1</tspan></text>
<g id="activation" fill="#fff2cc"><use href="#ab" x="3873.5" y="300.7"/><use href="#ab" x="3970.6" y="300.7"/><use href="#ab" x="3873.5" y="391.4"/><use href="#ab" x="3970.6" y="391.4"/></g>
<g id="accumulation" fill="#bdd7ee"><use href="#ab" x="4076.6" y="300.7"/><use href="#ab" x="4076.6" y="391.4"/></g>
<g id="activation-labels">
<text class="m f11" x="3896.8" y="316.9">T0</text><text class="m f11" x="3943.5" y="316.9">T1</text><text class="m f11" x="3994.3" y="316.9">T0</text><text class="m f11" x="4040.4" y="316.9">T1</text><text class="m f11" x="4099.9" y="316.9">T0</text><text class="m f11" x="4146.6" y="316.9">T1</text>
<text class="m f11" x="3896.8" y="337.9">T2</text><text class="m f11" x="3943.5" y="337.9">T3</text><text class="m f11" x="3994.3" y="337.9">T2</text><text class="m f11" x="4040.4" y="337.9">T3</text><text class="m f11" x="4099.9" y="337.9">T2</text><text class="m f11" x="4146.6" y="337.9">T3</text>
<text class="m f11" x="3896.8" y="359.7">T4</text><text class="m f11" x="3943.5" y="359.7">T5</text><text class="m f11" x="3994.3" y="359.7">T4</text><text class="m f11" x="4040.4" y="359.7">T5</text><text class="m f11" x="4099.9" y="359.7">T4</text><text class="m f11" x="4146.6" y="359.7">T5</text>
<text class="m f11" x="3896.8" y="381.5">T6</text><text class="m f11" x="3943.5" y="381.5">T7</text><text class="m f11" x="3994.3" y="381.5">T6</text><text class="m f11" x="4040.4" y="381.5">T7</text><text class="m f11" x="4099.9" y="381.5">T6</text><text class="m f11" x="4146.6" y="381.5">T7</text>
<text class="m f11" x="3896.8" y="407.2">T0</text><text class="m f11" x="3943.5" y="407.2">T1</text><text class="m f11" x="3994.3" y="407.2">T0</text><text class="m f11" x="4040.4" y="407.2">T1</text><text class="m f11" x="4099.9" y="407.2">T0</text><text class="m f11" x="4146.6" y="407.2">T1</text>
<text class="m f11" x="3896.8" y="428.6">T2</text><text class="m f11" x="3943.5" y="428.6">T3</text><text class="m f11" x="3994.3" y="428.6">T2</text><text class="m f11" x="4040.4" y="428.6">T3</text><text class="m f11" x="4099.9" y="428.6">T2</text><text class="m f11" x="4146.6" y="428.6">T3</text>
<text class="m f11" x="3896.8" y="450.8">T4</text><text class="m f11" x="3943.5" y="450.8">T5</text><text class="m f11" x="3994.3" y="450.8">T4</text><text class="m f11" x="4040.4" y="450.8">T5</text><text class="m f11" x="4099.9" y="450.8">T4</text><text class="m f11" x="4146.6" y="450.8">T5</text>
<text class="m f11" x="3896.8" y="472.6">T6</text><text class="m f11" x="3943.5" y="472.6">T7</text><text class="m f11" x="3994.3" y="472.6">T6</text><text class="m f11" x="4040.4" y="472.6">T7</text><text class="m f11" x="4099.9" y="472.6">T6</text><text class="m f11" x="4146.6" y="472.6">T7</text>
</g>
<text class="m f11" x="3969.2" y="499.3">Activation</text><text class="m f11" x="4123.2" y="500">Accumulation</text>
<g id="interleaved"><g fill="#f6c8a9"><use href="#ab" x="4243" y="351.8"/><use href="#ab" x="4376.9" y="351.8"/></g>
<path d="M4243 351.8H4336.3V373.95H4243ZM4289.65 351.8V373.95" fill="none" stroke="#e01010" stroke-width="2.2"/>
<text class="n" x="4256.3" y="367.6">0</text><text class="n" x="4277.3" y="367.6">1</text><text class="n" x="4301.8" y="367.6">4</text><text class="n" x="4323.4" y="367.6">5</text><text class="n" x="4389.3" y="367.6">2</text><text class="n" x="4410.9" y="367.6">3</text><text class="n" x="4437.2" y="367.6">6</text><text class="n" x="4458.2" y="367.6">7</text>
<text class="n" x="4256.3" y="389">8</text><text class="n" x="4277.3" y="389">9</text><text class="n" x="4301.8" y="389">12</text><text class="n" x="4323.4" y="389">13</text><text class="n" x="4389.3" y="389">10</text><text class="n" x="4410.9" y="389">11</text><text class="n" x="4437.2" y="389">14</text><text class="n" x="4458.2" y="389">15</text>
<text class="n" x="4256.3" y="410.4">16</text><text class="n" x="4277.3" y="410.4">17</text><text class="n" x="4301.8" y="410.4">20</text><text class="n" x="4323.4" y="410.4">21</text><text class="n" x="4389.3" y="410.4">18</text><text class="n" x="4410.9" y="410.4">19</text><text class="n" x="4437.2" y="410.4">22</text><text class="n" x="4458.2" y="410.4">23</text>
<text class="n" x="4256.3" y="432.2">24</text><text class="n" x="4277.3" y="432.2">25</text><text class="n" x="4301.8" y="432.2">28</text><text class="n" x="4323.4" y="432.2">29</text><text class="n" x="4389.3" y="432.2">26</text><text class="n" x="4410.9" y="432.2">27</text><text class="n" x="4437.2" y="432.2">30</text><text class="n" x="4458.2" y="432.2">31</text>
<text class="m f105" x="4215.4" y="367.4">T0</text><text class="m f105" x="4215.4" y="388.8">T2</text><text class="m f105" x="4215.4" y="410.2">T4</text><text class="m f105" x="4215.4" y="432">T6</text>
<text class="m f105" x="4349" y="367.4">T1</text><text class="m f105" x="4349" y="388.8">T3</text><text class="m f105" x="4349" y="410.2">T5</text><text class="m f105" x="4349" y="432">T7</text>
<use href="#ba" x="4225.3" y="363.4"/><use href="#ba" x="4225.3" y="384.8"/><use href="#ba" x="4225.3" y="406.2"/><use href="#ba" x="4225.3" y="428"/><use href="#ba" x="4359" y="363.4"/><use href="#ba" x="4359" y="384.8"/><use href="#ba" x="4359" y="406.2"/><use href="#ba" x="4359" y="428"/>
<text class="m f105" x="4356.6" y="461.8" textLength="163">Interleaved Weight Matrix Load</text></g>
</g>

<g id="figure5">
<path class="da" d="M3962 644Q4002 625.6 4041.5 644M4118.5 644.8Q4290 616 4462.3 644.8M3959.5 671Q3964 680 3969 671M4119 671Q4137 681 4160 671"/>
<rect x="3983.2" y="624.8" width="36.8" height="16.2" fill="#fff" stroke="#ddd" stroke-width=".8"/><text class="mb f86" x="4001.8" y="636" style="font-size:9.5px">32 bit</text>
<rect x="4271.4" y="621.8" width="41.5" height="16.2" fill="#fff" stroke="#ddd" stroke-width=".8"/><text class="mb" x="4292.2" y="633" style="font-size:9.5px">128 bit</text>
<g class="c">
<rect class="v0" x="3958" y="646.3" width="11.2" height="23"/><rect class="v1" x="3969.2" y="646.3" width="11.2" height="23"/><rect class="v2" x="3980.4" y="646.3" width="11.2" height="23"/><rect class="v3" x="3991.6" y="646.3" width="11.2" height="23"/><rect class="v4" x="4002.8" y="646.3" width="11.2" height="23"/><rect class="v5" x="4014" y="646.3" width="11.2" height="23"/><rect class="v6" x="4025.2" y="646.3" width="11.2" height="23"/><rect class="v7" x="4036.4" y="646.3" width="11.2" height="23"/>
<rect class="v6" x="3958" y="694.7" width="11.2" height="23.5"/><rect class="v4" x="3969.2" y="694.7" width="11.2" height="23.5"/><rect class="v2" x="3980.4" y="694.7" width="11.2" height="23.5"/><rect class="v0" x="3991.6" y="694.7" width="11.2" height="23.5"/><rect class="v7" x="4002.8" y="694.7" width="11.2" height="23.5"/><rect class="v5" x="4014" y="694.7" width="11.2" height="23.5"/><rect class="v3" x="4025.2" y="694.7" width="11.2" height="23.5"/><rect class="v1" x="4036.4" y="694.7" width="11.2" height="23.5"/>
<rect class="v3" x="4117.4" y="646.3" width="44.1" height="23"/><rect class="v7" x="4161.5" y="646.3" width="44.1" height="23"/><rect class="v2" x="4205.6" y="646.3" width="44.1" height="23"/><rect class="v6" x="4249.7" y="646.3" width="44.1" height="23"/><rect class="v1" x="4293.8" y="646.3" width="44.1" height="23"/><rect class="v5" x="4337.9" y="646.3" width="44.1" height="23"/><rect class="v0" x="4382" y="646.3" width="44.1" height="23"/><rect class="v4" x="4426.1" y="646.3" width="44.1" height="23"/>
<rect class="v0" x="4117.4" y="694.7" width="44.1" height="23.5"/><rect class="v1" x="4161.5" y="694.7" width="44.1" height="23.5"/><rect class="v2" x="4205.6" y="694.7" width="44.1" height="23.5"/><rect class="v3" x="4249.7" y="694.7" width="44.1" height="23.5"/><rect class="v4" x="4293.8" y="694.7" width="44.1" height="23.5"/><rect class="v5" x="4337.9" y="694.7" width="44.1" height="23.5"/><rect class="v6" x="4382" y="694.7" width="44.1" height="23.5"/><rect class="v7" x="4426.1" y="694.7" width="44.1" height="23.5"/>
</g>
<text class="mb f10" x="3963.6" y="661.6">0</text><text class="mb f10" x="3974.8" y="661.6">1</text><text class="mb f10" x="3986" y="661.6">2</text><text class="mb f10" x="3997.2" y="661.6">3</text><text class="mb f10" x="4008.4" y="661.6">4</text><text class="mb f10" x="4019.6" y="661.6">5</text><text class="mb f10" x="4030.8" y="661.6">6</text><text class="mb f10" x="4042" y="661.6">7</text>
<text class="mb f10" x="3963.6" y="710.2">6</text><text class="mb f10" x="3974.8" y="710.2">4</text><text class="mb f10" x="3986" y="710.2">2</text><text class="mb f10" x="3997.2" y="710.2">0</text><text class="mb f10" x="4008.4" y="710.2">7</text><text class="mb f10" x="4019.6" y="710.2">5</text><text class="mb f10" x="4030.8" y="710.2">3</text><text class="mb f10" x="4042" y="710.2">1</text>
<text class="mb f10" x="4139.4" y="661.6">3</text><text class="mb f10" x="4183.5" y="661.6">7</text><text class="mb f10" x="4227.6" y="661.6">2</text><text class="mb f10" x="4271.7" y="661.6">6</text><text class="mb f10" x="4315.8" y="661.6">1</text><text class="mb f10" x="4359.9" y="661.6">5</text><text class="mb f10" x="4404" y="661.6">0</text><text class="mb f10" x="4448.1" y="661.6">4</text>
<text class="mb f10" x="4139.4" y="710.2">0</text><text class="mb f10" x="4183.5" y="710.2">1</text><text class="mb f10" x="4227.6" y="710.2">2</text><text class="mb f10" x="4271.7" y="710.2">3</text><text class="mb f10" x="4315.8" y="710.2">4</text><text class="mb f10" x="4359.9" y="710.2">5</text><text class="mb f10" x="4404" y="710.2">6</text><text class="mb f10" x="4448.1" y="710.2">7</text>
<text class="mb" x="4080.6" y="653.7" style="font-size:10px">DQ</text><text class="mb" x="4080.6" y="701.4" style="font-size:10px">DQ</text>
<path class="ln" style="stroke-width:1.8" d="M4054.4 658.1H4103" marker-end="url(#hs)"/><path class="ln" style="stroke-width:1.8" d="M4054.4 706.6H4103" marker-end="url(#hs)"/>
<text class="sb red" x="3878" y="685.9" style="font-size:11.5px">Reorder</text>
<path d="M3951 658Q3926 660 3926 683Q3926 703 3946 706.6" fill="none" stroke="#f01010" stroke-width="1.8" marker-end="url(#hc)"/>
<text class="mb" x="3963.3" y="685.9" style="font-size:9.5px">4 bit</text><text class="mb" x="4137.8" y="685.9" style="font-size:9.5px">16 bit</text>
</g>

<g id="page5" transform="translate(3871.7,0)">
<text y="531" textLength="599.6">Figure 4: <tspan class="i">ldmatrix</tspan> instruction-aware weight interleaving to avoid shared memory conflicts. With</text>
<text y="547.5" textLength="599.6">interleaved weight matrix, direct load from DRAM to registers for each thread without <tspan class="i">ldmatrix</tspan> is</text>
<text y="564" textLength="599.6">possible. Note that the figure is illustrating a case of computing 8 × 4 × 8(<tspan class="i">M</tspan> × <tspan class="i">N</tspan> × <tspan class="i">K</tspan>) GEMM</text>
<text y="580.4" textLength="599.6">using 8 threads for simplicity. QUICK utilizes 16 × 8 × 16(<tspan class="i">M</tspan> × <tspan class="i">N</tspan> × <tspan class="i">K</tspan>) GEMM with 32 threads</text>
<text y="596.9">and its corresponding interleaving pattern.</text>
<text x="81.7" y="741.3" textLength="435.3">Figure 5: Parallel i4-f16 dequantization kernel-aware weight reordering.</text>
<text y="791.7" textLength="599.6">enhance data locality, an additional rearrangement pattern ensuring a sequential weight pattern after</text>
<text y="808.2">dequantization is applied.</text>
<text y="832.7" textLength="599.6">Both weight rearrangement patterns avoid shared memory write-backs and ensure the sequential</text>
<text y="849.2" textLength="602">weight pattern after dequantization can be applied concurrently, as the patterns are independent.</text>
<text y="865.7" textLength="599.6">QUICK integrates both patterns as described in Figure <tspan class="bl">6</tspan>, achieving optimal end-to-end latency while</text>
<text y="882.2">reducing shared memory bank conflicts and enhancing data locality.</text>
<text class="h2" y="920.4">3.3<tspan x="34.3">Tile Size Optimization</tspan></text>
<text y="949.6" textLength="599.6">Optimizing the number of active warps per multiprocessor plays an important role in improving the</text>
<text y="966.1" textLength="599.6">performance of computation kernels. Achieving higher number of active warps per multiprocessor</text>
<text y="982.6" textLength="599.6">can be beneficial as it facilitates the interleaving of warps and enables better latency hiding. Several</text>
<text y="999.1" textLength="599.6">factors, including the number of required registers and the size of shared memory, can limit the</text>
<text y="1015.6" textLength="599.6">number of active warps per multiprocessor. In addition to improving throughput by eliminating</text>
<text y="1032.1" textLength="599.6">shared memory write-back bank conflicts, QUICK leverages the reduced shared memory usage within</text>
<text y="1048.6">the computation kernel to further enhance computational throughput.</text>
<text y="1073.6" textLength="599.6">Previous mixed precision GEMM kernels have utilized shared memory to store both activation and</text>
<text y="1090.1" textLength="599.6">weight matrices, with benchmarks indicating that the shared memory size per warp exerts the greatest</text>
<text x="299.3" y="1135.7" text-anchor="middle">5</text>
</g>
</g>
</svg>
